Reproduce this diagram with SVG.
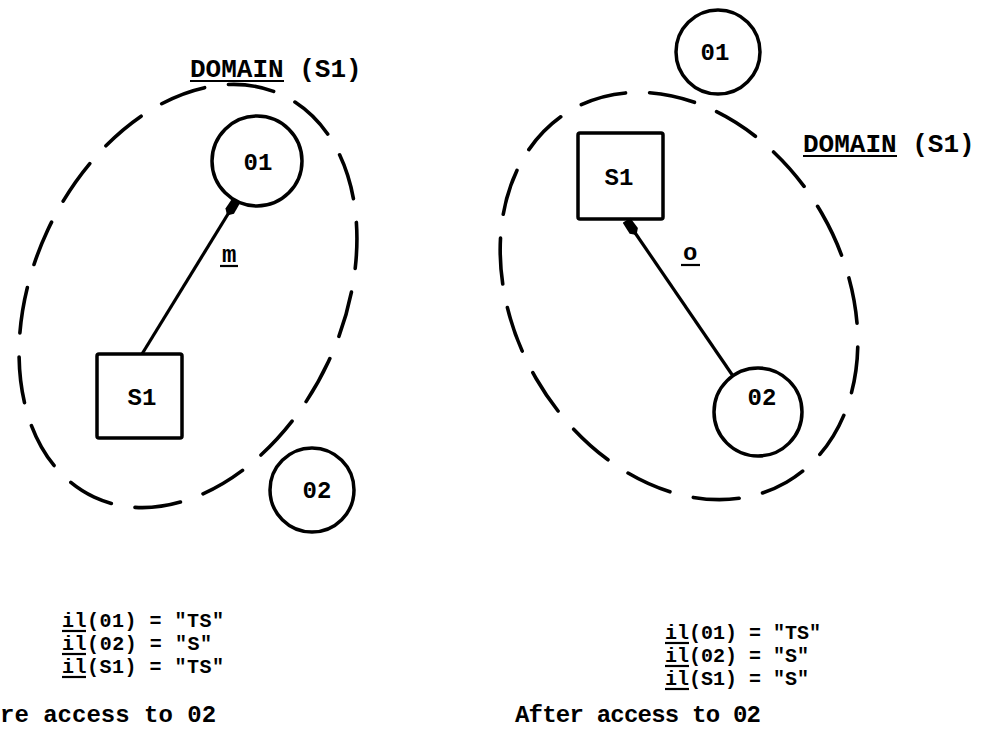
<svg xmlns="http://www.w3.org/2000/svg" width="984" height="750" viewBox="0 0 984 750">
<style>
  .node { fill: none; stroke: #000; stroke-width: 3.5; }
  .domain { fill: none; stroke: #000; stroke-width: 3.6; stroke-dasharray: 46 24; stroke-linecap: round; }
  .edge { fill: none; stroke: #000; stroke-width: 3.2; }
  .lbl { font-family: "Liberation Mono", "DejaVu Sans Mono", monospace; font-size: 24px; font-weight: bold; fill: #000; }
  .dom { font-family: "Liberation Mono", "DejaVu Sans Mono", monospace; font-size: 26px; font-weight: bold; fill: #000; }
  .lev { font-family: "Liberation Mono", "DejaVu Sans Mono", monospace; font-size: 20px; font-weight: bold; fill: #000; }
  .nl { font-family: "Liberation Mono", "DejaVu Sans Mono", monospace; font-size: 24px; font-weight: bold; fill: #000; text-anchor: middle; }
  .ul { stroke: #000; stroke-width: 2.2; }
</style>
<defs>
  <marker id="ah" viewBox="0 0 18 12" refX="17" refY="6" markerWidth="18" markerHeight="12" markerUnits="userSpaceOnUse" orient="auto">
    <path d="M0,6 L5,1 L18,1.5 L18,10.5 L5,11 z" fill="#000"/>
  </marker>
</defs>
<rect width="984" height="750" fill="#fff"/>

<!-- LEFT: before access -->
<g id="domain-left">
  <ellipse class="domain" cx="188" cy="296" rx="155" ry="222" transform="rotate(25 188 296)"/>
  <text class="dom" x="190" y="77">DOMAIN (S1)</text>
  <line class="ul" x1="190" y1="81" x2="284" y2="81"/>
</g>
<g id="O1-left">
  <circle class="node" cx="257" cy="161" r="45"/>
  <text class="nl" x="258" y="170">01</text>
</g>
<g id="S1-left">
  <rect class="node" x="97" y="354" width="85" height="84" rx="2"/>
  <text class="nl" x="142" y="405">S1</text>
</g>
<g id="O2-left">
  <circle class="node" cx="312" cy="490" r="42"/>
  <text class="nl" x="317" y="498">02</text>
</g>

<!-- RIGHT: after access -->
<g id="domain-right">
  <ellipse class="domain" cx="679" cy="296" rx="165" ry="215" transform="rotate(-30 679 296)"/>
  <text class="dom" x="803" y="152">DOMAIN (S1)</text>
  <line class="ul" x1="803" y1="156" x2="897" y2="156"/>
</g>
<g id="O1-right">
  <circle class="node" cx="718" cy="52" r="42"/>
  <text class="nl" x="715" y="60">01</text>
</g>
<g id="S1-right">
  <rect class="node" x="578" y="133" width="85" height="86" rx="2"/>
  <text class="nl" x="619" y="185">S1</text>
</g>
<g id="O2-right">
  <circle class="node" cx="758" cy="412" r="44"/>
  <text class="nl" x="762" y="405">02</text>
</g>

<g id="connectors">
  <line class="edge" x1="142" y1="354" x2="236" y2="201" marker-end="url(#ah)"/>
  <text class="lbl" x="222" y="262">m</text>
  <line class="ul" x1="220" y1="266" x2="238" y2="266"/>
  <line class="edge" x1="733" y1="376" x2="627" y2="221" marker-end="url(#ah)"/>
  <text class="lbl" x="683" y="260">o</text>
  <line class="ul" x1="681" y1="265" x2="700" y2="265"/>
</g>

<!-- labels -->
<g id="levels-left">
  <text class="lev" x="62" y="627" textLength="162">il(01) = "TS"</text>
  <line class="ul" x1="62" y1="631" x2="86" y2="631"/>
  <text class="lev" x="62" y="650" textLength="150">il(02) = "S"</text>
  <line class="ul" x1="62" y1="654" x2="86" y2="654"/>
  <text class="lev" x="62" y="673" textLength="162">il(S1) = "TS"</text>
  <line class="ul" x1="62" y1="677" x2="86" y2="677"/>
  <text class="lbl" x="0" y="722">re access to 02</text>
</g>
<g id="levels-right">
  <text class="lev" x="665" y="639" textLength="156">il(01) = "TS"</text>
  <line class="ul" x1="665" y1="643" x2="689" y2="643"/>
  <text class="lev" x="665" y="662" textLength="144">il(02) = "S"</text>
  <line class="ul" x1="665" y1="666" x2="689" y2="666"/>
  <text class="lev" x="665" y="685" textLength="144">il(S1) = "S"</text>
  <line class="ul" x1="665" y1="689" x2="689" y2="689"/>
  <text class="lbl" x="515" y="722" textLength="246">After access to 02</text>
</g>
</svg>
